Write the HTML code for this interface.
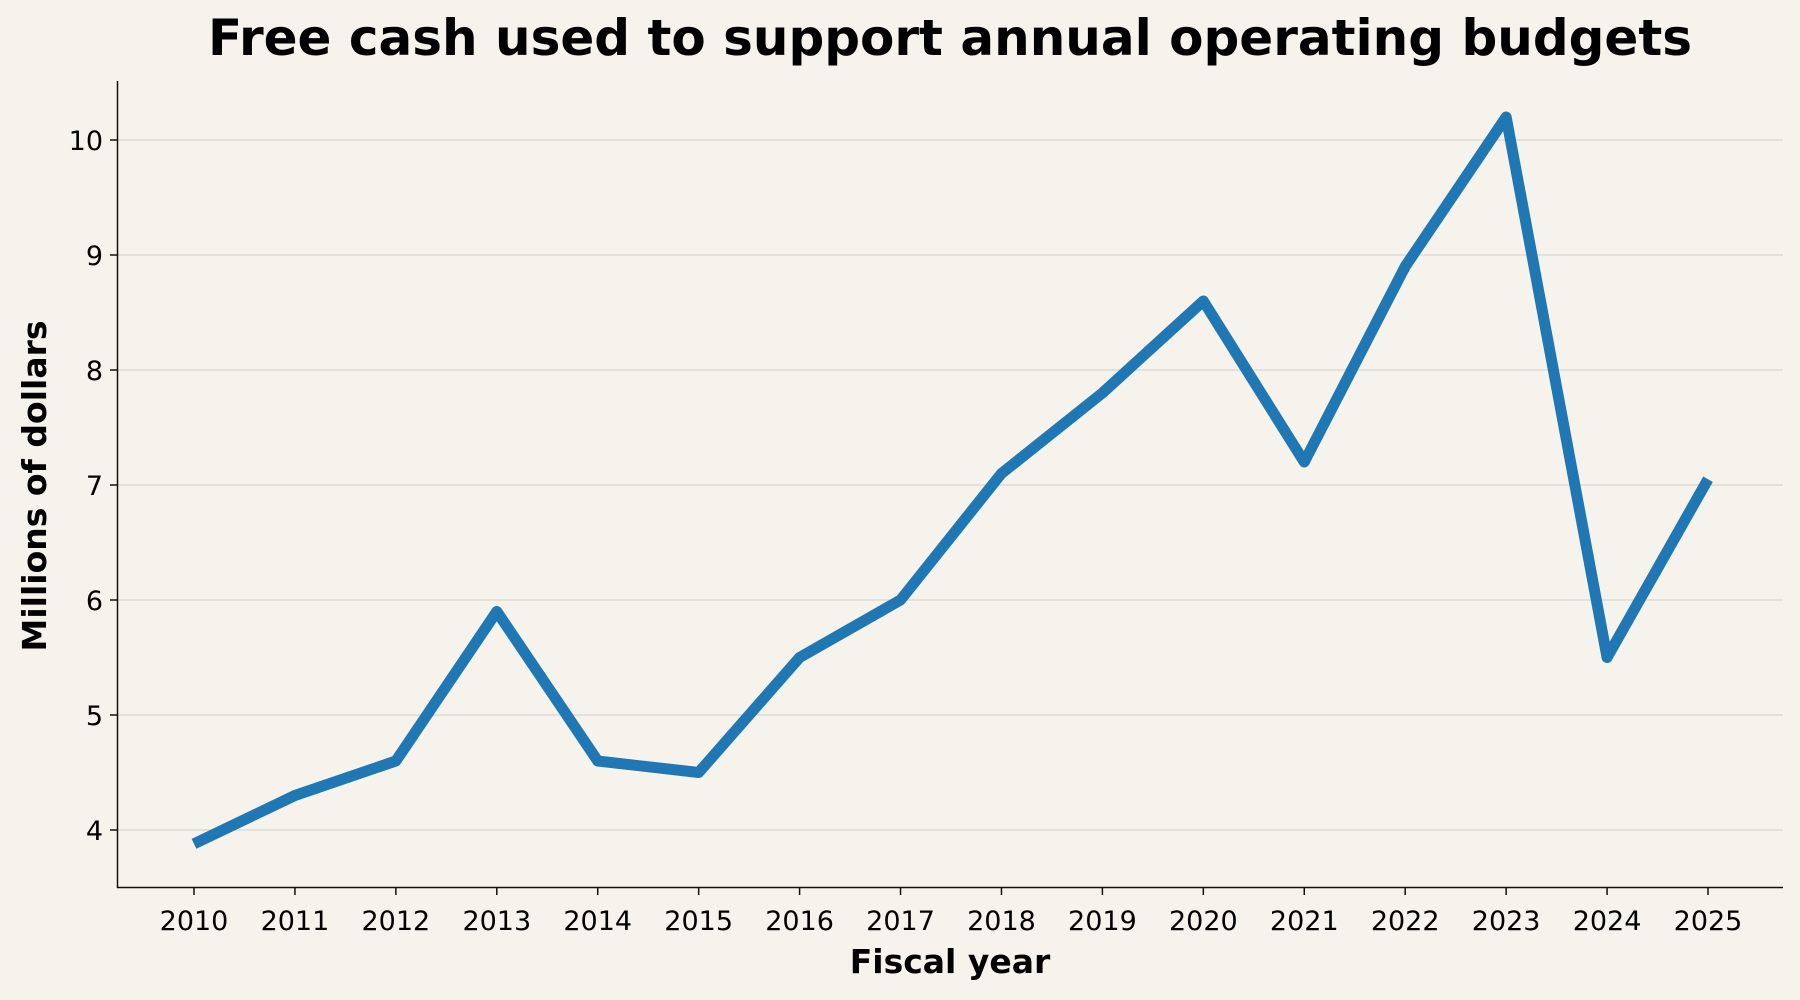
<!DOCTYPE html>
<html><head><meta charset="utf-8"><style>
body{margin:0;background:#f5f3ec;}
svg{display:block;font-family:"DejaVu Sans","Liberation Sans",sans-serif;}
</style></head><body>
<svg id="chart" width="1800" height="1000">
<rect width="1800" height="1000" fill="#f5f3ec"/>
<text x="950" y="55" text-anchor="middle" font-size="50" font-weight="bold" fill="#000">Free cash used to support annual operating budgets</text>
<g id="grid"></g><g id="xticks"></g><g id="yticks"></g><g id="series"></g>
<line x1="117.5" y1="81" x2="117.5" y2="888" stroke="#111" stroke-width="1.5"/>
<line x1="117" y1="887.5" x2="1783" y2="887.5" stroke="#111" stroke-width="1.5"/>
<text x="950" y="973" text-anchor="middle" font-size="33" font-weight="bold" fill="#000">Fiscal year</text>
<text transform="translate(46,486) rotate(-90)" text-anchor="middle" font-size="33" font-weight="bold" fill="#000">Millions of dollars</text>
</svg>
<script>
const years=[2010,2011,2012,2013,2014,2015,2016,2017,2018,2019,2020,2021,2022,2023,2024,2025];
const values=[3.88,4.3,4.6,5.9,4.6,4.5,5.5,6.0,7.1,7.8,8.6,7.2,8.9,10.2,5.5,7.05];
const yTicks=[4,5,6,7,8,9,10];
const NS='http://www.w3.org/2000/svg';
function xs(y){return 194+(y-2010)*(1708-194)/15;}
function ys(v){return 830-(v-4)*(830-140)/6;}
function mk(t,a,p){const e=document.createElementNS(NS,t);for(const k in a)e.setAttribute(k,a[k]);p.appendChild(e);return e;}
const g=document.getElementById('grid'),xt=document.getElementById('xticks'),yt=document.getElementById('yticks'),s=document.getElementById('series');
yTicks.forEach(v=>{
 const l=mk('line',{x1:118,x2:1783,y1:ys(v),y2:ys(v),stroke:'#dfdbd3','stroke-width':1.5},g);
 
 
 const t=mk('line',{x1:110,x2:117,y1:ys(v),y2:ys(v),stroke:'#111','stroke-width':1.5},yt);
 
 
 const tx=mk('text',{x:103,y:ys(v)+10,'text-anchor':'end','font-size':27,fill:'#000'},yt);
 tx.textContent=v;
 
 
});
years.forEach(y=>{
 const t=mk('line',{x1:xs(y),x2:xs(y),y1:888,y2:895,stroke:'#111','stroke-width':1.5},xt);
 
 
 const tx=mk('text',{x:xs(y),y:930,'text-anchor':'middle','font-size':27,fill:'#000'},xt);
 tx.textContent=y;
 
 
});
const pl=mk('polyline',{points:years.map((y,i)=>xs(y)+','+ys(values[i])).join(' '),fill:'none',stroke:'#1f77b4','stroke-width':11,'stroke-linejoin':'round','stroke-linecap':'butt'},s);


</script>
</body></html>
